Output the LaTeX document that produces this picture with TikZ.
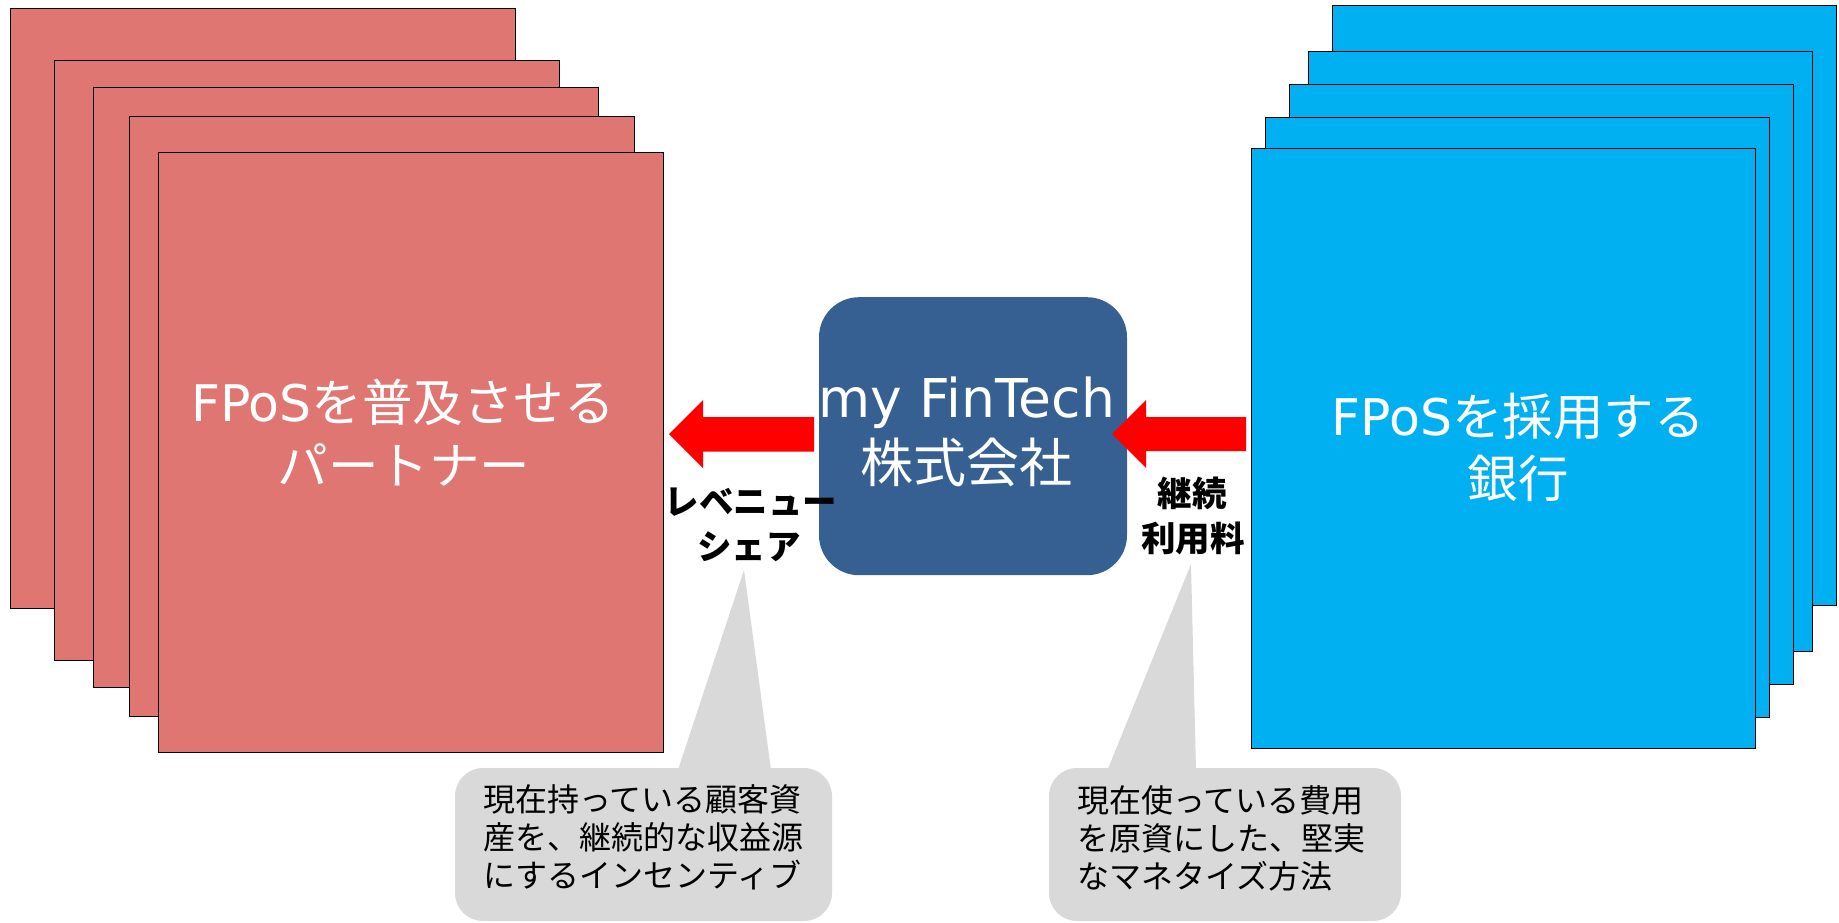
\documentclass[tikz,border=0pt]{standalone}
\usepackage{fontspec}
\newfontfamily\jp{Noto Sans CJK JP}
\newfontfamily\dv{DejaVu Sans}
\definecolor{pred}{HTML}{E07672}
\definecolor{pblue}{HTML}{00B0F0}
\definecolor{pnavy}{HTML}{376092}
\definecolor{pgray}{HTML}{D9D9D9}
\definecolor{parrow}{HTML}{FF0000}
\tikzset{
  card/.style={draw=black, line width=1pt, anchor=north west, inner sep=0pt, outer sep=0pt},
  redcard/.style={card, fill=pred, minimum width=505pt, minimum height=600pt},
  bluecard/.style={card, fill=pblue, minimum width=504pt, minimum height=600pt},
  bigtext/.style={text=white, inner sep=0pt, anchor=base, font=\jp\fontsize{50.5}{60}\selectfont},
  lbl/.style={text=black, inner sep=0pt, anchor=base, font=\jp\bfseries\fontsize{34.5}{40}\selectfont},
  calltext/.style={text=black, inner sep=0pt, anchor=base west, font=\jp\fontsize{32}{38}\selectfont},
  blockarrow/.style={fill=parrow, draw=none},
  callout/.style={fill=pgray, draw=none}
}
\begin{document}
\begin{tikzpicture}[x=1pt, y=-1pt]
\useasboundingbox (0,0) rectangle (1839,922);
% partner cards
\node[redcard] (r1) at (10.7,8.7) {};
\node[redcard] (r2) at (54.9,60.3) {};
\node[redcard] (r3) at (93.8,87) {};
\node[redcard] (r4) at (129.5,116) {};
\node[redcard] (r5) at (158.5,152) {};
% bank cards
\node[bluecard] (b1) at (1332.4,5.7) {};
\node[bluecard] (b2) at (1308,51.7) {};
\node[bluecard] (b3) at (1289.7,84.3) {};
\node[bluecard] (b4) at (1265.2,117.3) {};
\node[bluecard] (b5) at (1251.5,148) {};
% texts in cards
\node[bigtext] (pt1) at (403,421) {{\dv FPoS}を普及させる};
\node[bigtext] (pt2) at (404,484) {パートナー};
\node[bigtext] (bt1) at (1518,435) {{\dv FPoS}を採用する};
\node[bigtext] (bt2) at (1518,497) {銀行};
% company box
\node[fill=pnavy, rounded corners=40pt, minimum width=308pt, minimum height=278pt, inner sep=0pt, anchor=north west] (co) at (818.8,297) {};
\node[text=white, inner sep=0pt, anchor=base, font=\dv\fontsize{53.5}{60}\selectfont] (co1) at (967,417) {my FinTech};
\node[text=white, inner sep=0pt, anchor=base, font=\jp\fontsize{53}{60}\selectfont] (co2) at (966.5,482) {株式会社};
% arrows
\coordinate (la) at (669,434);
\coordinate (ra) at (1112,434);
\fill[blockarrow] (814,417) -- (703,417) -- (703,400) -- (la) -- (703,468) -- (703,451.5) -- (814,451.5) -- cycle;
\fill[blockarrow] (1246,417) -- (1146,417) -- (1146,400) -- (ra) -- (1146,468) -- (1146,451) -- (1246,451) -- cycle;
% labels
\node[lbl] (l1) at (751,514) {レベニュー};
\node[lbl] (l2) at (749,559) {シェア};
\node[lbl] (l3) at (1192,506) {継続};
\node[lbl] (l4) at (1193,551) {利用料};
% callouts
\coordinate (ct1) at (744,570);
\coordinate (ct2) at (1191,564);
\fill[callout, rounded corners=28pt] (455,768) rectangle (832,921);
\fill[callout] (678,770) -- (ct1) -- (771,770) -- cycle;
\fill[callout, rounded corners=28pt] (1049,768) rectangle (1401,921);
\fill[callout] (1107.5,770) -- (ct2) -- (1196,770) -- cycle;
\node[calltext] (c11) at (483,811) {現在持っている顧客資};
\node[calltext] (c12) at (483,849) {産を、継続的な収益源};
\node[calltext] (c13) at (483,887) {にするインセンティブ};
\node[calltext] (c21) at (1077,812) {現在使っている費用};
\node[calltext] (c22) at (1077,850) {を原資にした、堅実};
\node[calltext] (c23) at (1077,888) {なマネタイズ方法};
\end{tikzpicture}
\end{document}
